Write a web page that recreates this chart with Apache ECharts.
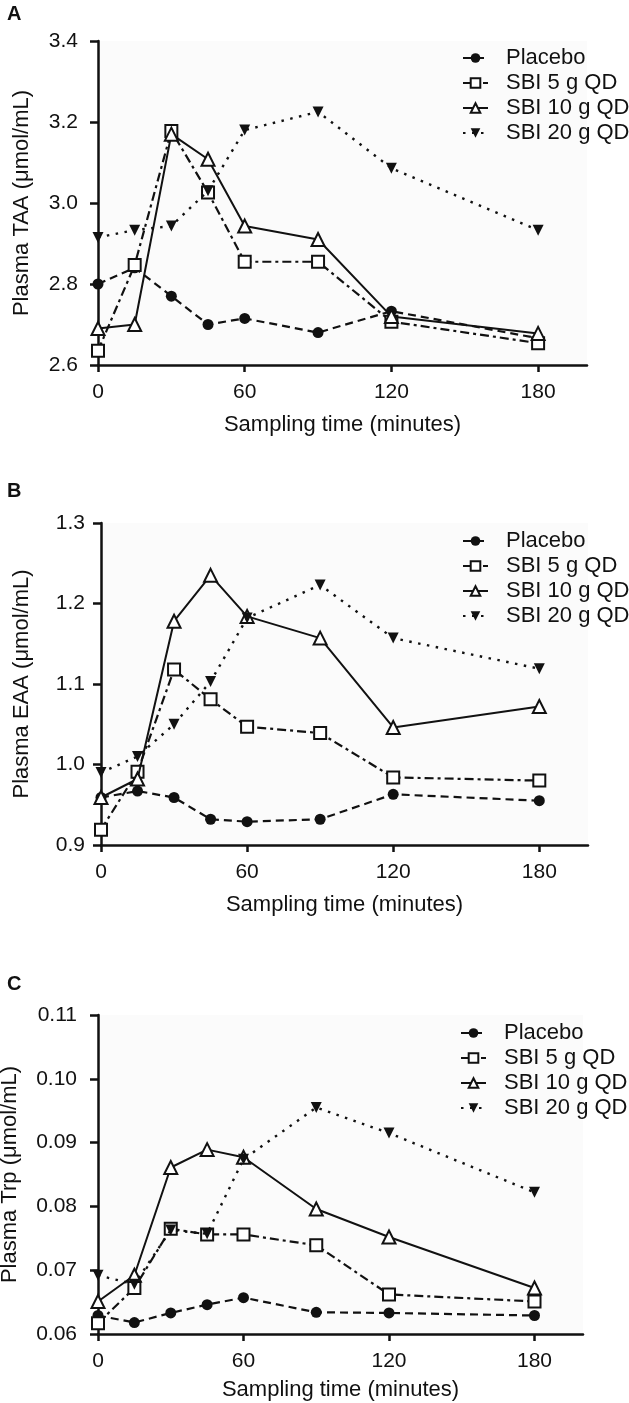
<!DOCTYPE html>
<html><head><meta charset="utf-8">
<script src="https://cdn.jsdelivr.net/npm/echarts@6/dist/echarts.min.js"></script>
<style>html,body{margin:0;padding:0;background:#fff}#c{width:629px;height:1403px}</style>
</head><body><div id="c"></div>
<script>
const timePoints = [0, 15, 30, 45, 60, 90, 120, 180];
const xTicks = [0, 60, 120, 180];
const seriesNames = ['Placebo', 'SBI 5 g QD', 'SBI 10 g QD', 'SBI 20 g QD'];

const placeboA = [2.80, 2.84, 2.77, 2.70, 2.715, 2.68, 2.733, 2.666];
const sbi5A    = [2.635, 2.847, 3.178, 3.026, 2.855, 2.855, 2.707, 2.654];
const sbi10A   = [2.69, 2.70, 3.17, 3.108, 2.943, 2.91, 2.72, 2.678];
const sbi20A   = [2.915, 2.933, 2.943, 3.03, 3.18, 3.225, 3.086, 2.933];

const placeboB = [0.959, 0.967, 0.959, 0.932, 0.929, 0.932, 0.963, 0.955];
const sbi5B    = [0.919, 0.991, 1.118, 1.081, 1.047, 1.039, 0.984, 0.980];
const sbi10B   = [0.959, 0.982, 1.178, 1.235, 1.184, 1.157, 1.046, 1.072];
const sbi20B   = [0.99, 1.01, 1.05, 1.103, 1.182, 1.223, 1.157, 1.119];

const placeboC = [0.0629, 0.0618, 0.0633, 0.0646, 0.0657, 0.0634, 0.0633, 0.0629];
const sbi5C    = [0.0617, 0.0672, 0.0765, 0.0756, 0.0756, 0.0739, 0.0662, 0.0651];
const sbi10C   = [0.0651, 0.0692, 0.0861, 0.0889, 0.0877, 0.0796, 0.0752, 0.0672];
const sbi20C   = [0.0692, 0.0678, 0.0763, 0.0757, 0.0874, 0.0955, 0.0915, 0.0822];

const yTitles = ['Plasma TAA (μmol/mL)', 'Plasma EAA (μmol/mL)', 'Plasma Trp (μmol/mL)'];
const xTitle = 'Sampling time (minutes)';
const panelLetters = ['A', 'B', 'C'];

const FONT = '"Liberation Sans", Arial, Helvetica, sans-serif';
const INK = '#111';

const panels = [
  {data: [placeboA, sbi5A, sbi10A, sbi20A], min: 2.6, max: 3.4, interval: 0.2, dec: 1,
   grid: {left: 98, top: 41, width: 489, height: 324}, nameGap: 65, labelMargin: 20, xNameGap: 49,
   legendTop: 47, legendLeft: 462, letterY: 4},
  {data: [placeboB, sbi5B, sbi10B, sbi20B], min: 0.9, max: 1.3, interval: 0.1, dec: 1,
   grid: {left: 101, top: 523, width: 487, height: 322}, nameGap: 68, labelMargin: 16, xNameGap: 49,
   legendTop: 530, legendLeft: 462, letterY: 481},
  {data: [placeboC, sbi5C, sbi10C, sbi20C], min: 0.06, max: 0.11, interval: 0.01, dec: 2,
   grid: {left: 98, top: 1015, width: 485, height: 319}, nameGap: 77, labelMargin: 21, xNameGap: 45,
   legendTop: 1022, legendLeft: 460, letterY: 974}
];

const styles = [
  {symbol: 'circle', symbolSize: 11, rotate: 0, fill: INK, dash: [8, 5], width: 2.2},
  {symbol: 'rect', symbolSize: 12, rotate: 0, fill: '#fff', dash: [9, 4, 3, 4], width: 2.2},
  {symbol: 'triangle', symbolSize: 13, rotate: 0, fill: '#fff', dash: 'solid', width: 2},
  {symbol: 'triangle', symbolSize: 11, rotate: 180, fill: INK, dash: [2.5, 6.5], width: 2.4}
];

const grids = [], xAxes = [], yAxes = [], series = [], legends = [], graphics = [];
panels.forEach((p, i) => {
  grids.push(Object.assign({show: true, backgroundColor: '#fbfbfb', borderWidth: 0,
    containLabel: false, outerBoundsMode: 'none'}, p.grid));
  xAxes.push({
    type: 'value', gridIndex: i, min: 0, max: 200,
    name: xTitle, nameLocation: 'middle', nameGap: p.xNameGap,
    nameTextStyle: {fontFamily: FONT, fontSize: 22, color: INK},
    axisLine: {show: true, onZero: false, lineStyle: {color: INK, width: 2.5}},
    axisTick: {show: true, length: 7, customValues: xTicks, lineStyle: {color: INK, width: 2.5}},
    axisLabel: {customValues: xTicks, margin: 17, fontFamily: FONT, fontSize: 21, color: INK},
    splitLine: {show: false}
  });
  yAxes.push({
    type: 'value', gridIndex: i, min: p.min, max: p.max, interval: p.interval,
    name: yTitles[i], nameLocation: 'middle', nameGap: p.nameGap, nameRotate: 90,
    nameTextStyle: {fontFamily: FONT, fontSize: 22, color: INK},
    axisLine: {show: true, onZero: false, lineStyle: {color: INK, width: 2.5}},
    axisTick: {show: true, length: 8, lineStyle: {color: INK, width: 2.5}},
    axisLabel: {margin: p.labelMargin, fontFamily: FONT, fontSize: 21, color: INK,
      formatter: v => v.toFixed(p.dec)},
    splitLine: {show: false}
  });
  p.data.forEach((arr, k) => {
    const s = styles[k];
    series.push({
      name: seriesNames[k], type: 'line', xAxisIndex: i, yAxisIndex: i,
      data: timePoints.map((t, j) => [t, arr[j]]),
      symbol: s.symbol, symbolSize: s.symbolSize, symbolRotate: s.rotate,
      showAllSymbol: true, animation: false, z: 2 + k,
      lineStyle: {color: INK, width: s.width, type: s.dash},
      itemStyle: {color: s.fill, borderColor: INK, borderWidth: s.fill === '#fff' ? 2 : 0}
    });
  });
  legends.push({
    orient: 'vertical', left: p.legendLeft, top: p.legendTop, padding: 0,
    data: seriesNames, itemWidth: 25, itemHeight: 12, itemGap: 3,
    textStyle: {fontFamily: FONT, fontSize: 22, color: INK, padding: [0, 0, 0, 13]},
    selectedMode: false
  });
  graphics.push({
    type: 'text', left: 7, top: p.letterY,
    style: {text: panelLetters[i], font: 'bold 20px ' + FONT, fill: INK}
  });
});

const chart = echarts.init(document.getElementById('c'), null, {renderer: 'canvas'});
chart.setOption({
  animation: false,
  backgroundColor: '#fff',
  grid: grids, xAxis: xAxes, yAxis: yAxes, series: series, legend: legends, graphic: graphics
});
</script></body></html>
